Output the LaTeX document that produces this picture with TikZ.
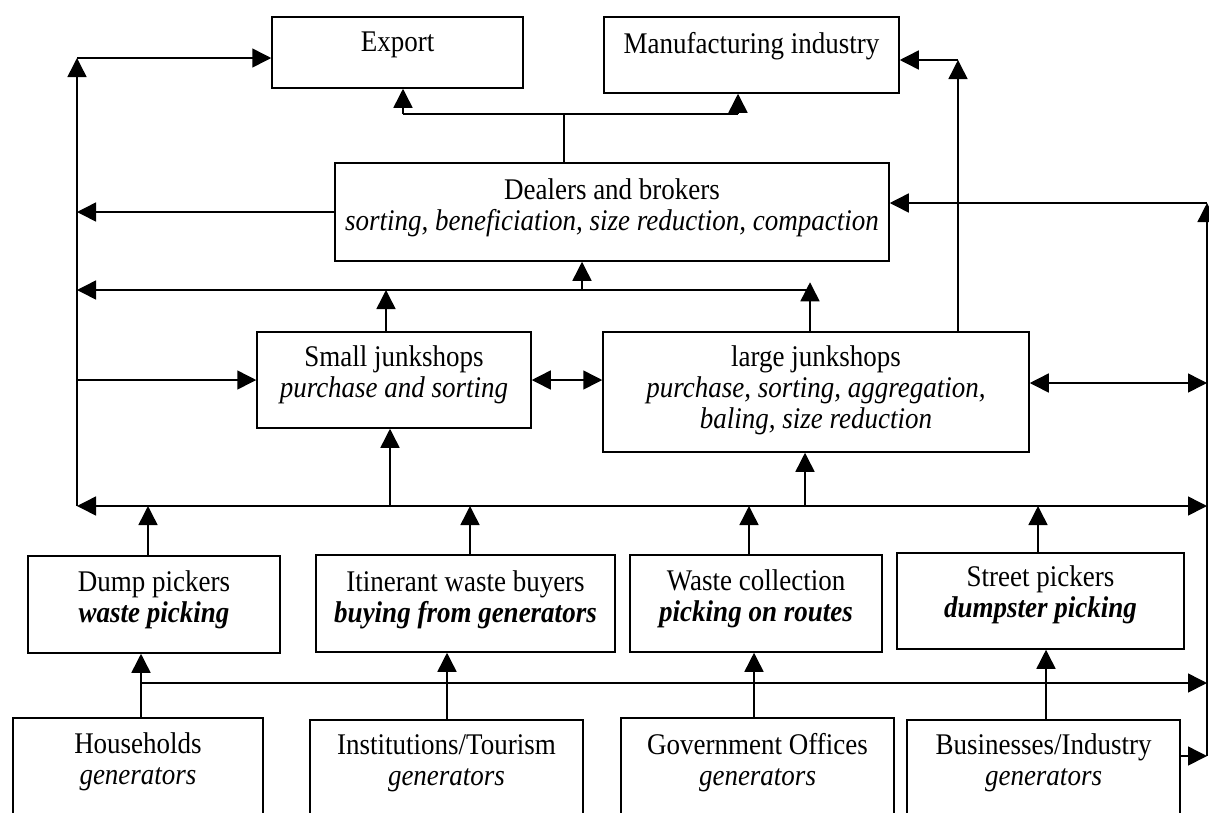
\documentclass[tikz,border=0pt]{standalone}
\usepackage{fontspec}
\setmainfont{Liberation Serif}[FakeStretch=0.9]
\usetikzlibrary{arrows.meta}
\tikzstyle{box} = [rectangle, draw=black, line width=1.5pt,
align=center, inner sep=2pt,
font=\fontsize{30}{31}\selectfont]
\tikzstyle{line} = [line width=1.5pt]
\tikzstyle{arrow} = [line width=1.5pt, -{Triangle[length=19pt,width=19pt]}]
\tikzstyle{darrow} = [line width=1.5pt, {Triangle[length=19pt,width=19pt]}-{Triangle[length=19pt,width=19pt]}]

\begin{document}
\begin{tikzpicture}[x=1pt, y=-1pt]
        \useasboundingbox (0,0) rectangle (1209,812);
        \clip (0,0) rectangle (1209,812);
        % buyers at the top
        \node (exp) [box, minimum width=251pt, minimum height=71pt, text depth=22pt] at (397.5,52.5) {Export};
        \node (manu) [box, minimum width=295pt, minimum height=76pt, text depth=24pt] at (751.5,55) {Manufacturing industry};
        \node (deal) [box, minimum width=554pt, minimum height=98pt, text depth=14pt] at (612,212) {Dealers and brokers\\\textit{sorting, beneficiation, size reduction, compaction}};
        % junkshops
        \node (smal) [box, minimum width=274pt, minimum height=96pt, text depth=16pt] at (394,380) {Small junkshops\\\textit{purchase and sorting}};
        \node (larg) [box, minimum width=426pt, minimum height=120pt, text depth=10pt] at (816,392) {large junkshops\\\textit{purchase, sorting, aggregation,}\\\textit{baling, size reduction}};
        % collectors
        \node (dump) [box, minimum width=252pt, minimum height=97pt, text depth=16pt] at (154,604.5) {Dump pickers\\\textbf{\textit{waste picking}}};
        \node (itin) [box, minimum width=299pt, minimum height=97pt, text depth=14pt] at (465.5,603.5) {Itinerant waste buyers\\\textbf{\textit{buying from generators}}};
        \node (wcol) [box, minimum width=252pt, minimum height=97pt, text depth=16pt] at (756,603.5) {Waste collection\\\textbf{\textit{picking on routes}}};
        \node (strt) [box, minimum width=287pt, minimum height=96pt, text depth=18pt] at (1040.5,601) {Street pickers\\\textbf{\textit{dumpster picking}}};
        % generators
        \node (hous) [box, minimum width=250pt, minimum height=112pt, text depth=30pt] at (138,774) {Households\\\textit{generators}};
        \node (inst) [box, minimum width=273pt, minimum height=110pt, text depth=30pt] at (446.5,775) {Institutions/Tourism\\\textit{generators}};
        \node (govt) [box, minimum width=273pt, minimum height=112pt, text depth=30pt] at (757.5,774) {Government Offices\\\textit{generators}};
        \node (busi) [box, minimum width=273pt, minimum height=110pt, text depth=30pt] at (1043.5,775) {Businesses/Industry\\\textit{generators}};

        \coordinate (lt) at (77,58);
        \coordinate (lb) at (77,506);
        \coordinate (br) at (1207,506);
        \coordinate (rt) at (1207,203);
        \coordinate (rb) at (1207,756);
        \coordinate (j1) at (810,290);
        \coordinate (j2) at (582,290);
        \coordinate (j3) at (564,114);
        \coordinate (ea) at (403,114);
        \coordinate (ma) at (738,114);
        \coordinate (mt) at (958,60);
        \coordinate (g1) at (141,683);
        \coordinate (g2) at (1207,683);

        % top
        \draw [arrow] (lb) -- (lt);
        \draw [arrow] (lt) -- (lt -| exp.west);
        \draw [line] (deal.north -| j3) -- (j3);
        \draw [line] (ea) -- (ma);
        \draw [arrow] (ea) -- (ea |- exp.south);
        \draw [arrow] (ma) -- (ma |- manu.south);
        \draw [arrow] (larg.north -| mt) -- (mt);
        \draw [arrow] (mt) -- (mt -| manu.east);
        \draw [arrow] (deal.west) -- (deal.west -| lt);
        \draw [arrow] (rb) -- (rt);
        \draw [arrow] (rt) -- (rt -| deal.east);
        % junkshops to dealers
        \draw [arrow] (j1) -- (j1 -| lt);
        \draw [arrow] (larg.north -| j1) -- ++(0,-49);
        \draw [arrow] ([xshift=-8pt]smal.north) -- ([xshift=-8pt]smal.north |- j1);
        \draw [arrow] (j2) -- (j2 |- deal.south);
        \draw [arrow] (lt |- smal.west) -- (smal.west);
        \draw [darrow] (smal.east) -- (smal.east -| larg.west);
        \draw [darrow] ([yshift=9pt]larg.east) -- ([yshift=9pt]larg.east -| rt);
        % collectors to junkshops
        \draw [darrow] (lb) -- (br);
        \draw [arrow] ([xshift=-4pt]smal.south |- lb) -- ([xshift=-4pt]smal.south);
        \draw [arrow] ([xshift=-11pt]larg.south |- lb) -- ([xshift=-11pt]larg.south);
        \draw [arrow] ([xshift=-6pt]dump.north) -- ([xshift=-6pt]dump.north |- lb);
        \draw [arrow] ([xshift=4.5pt]itin.north) -- ([xshift=4.5pt]itin.north |- lb);
        \draw [arrow] ([xshift=-7pt]wcol.north) -- ([xshift=-7pt]wcol.north |- lb);
        \draw [arrow] ([xshift=-2.5pt]strt.north) -- ([xshift=-2.5pt]strt.north |- lb);
        % generators to collectors
        \draw [arrow] (g1) -- (g2);
        \draw [arrow] ([xshift=3pt]hous.north) -- ([xshift=3pt]hous.north |- dump.south);
        \draw [arrow] ([xshift=0.5pt]inst.north) -- ([xshift=0.5pt]inst.north |- itin.south);
        \draw [arrow] ([xshift=-3.5pt]govt.north) -- ([xshift=-3.5pt]govt.north |- wcol.south);
        \draw [arrow] ([xshift=2.5pt]busi.north) -- ([xshift=2.5pt]busi.north |- strt.south);
        \draw [arrow] (busi.east |- rb) -- (rb);
    \end{tikzpicture}
\end{document}
